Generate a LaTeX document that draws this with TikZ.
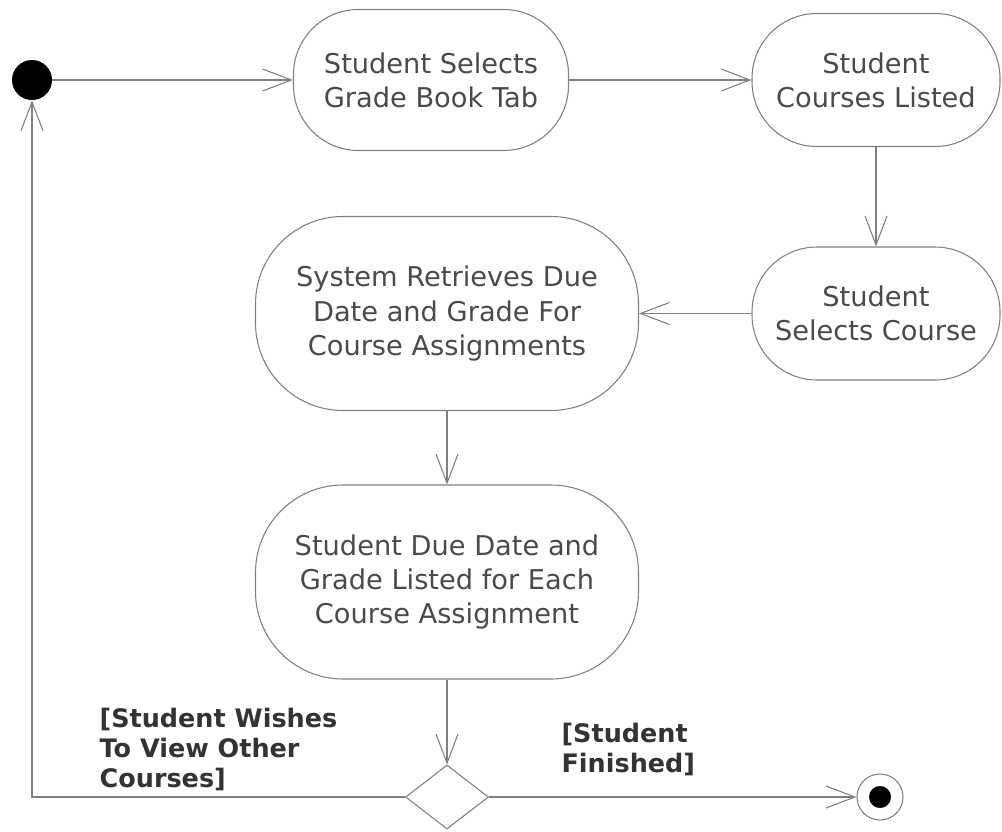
\documentclass[tikz,border=0pt]{standalone}
\usepackage{fontspec}
\setmainfont{DejaVu Sans}
\usepackage{xcolor}
\usepackage{tikz}
\usetikzlibrary{arrows.meta,shapes.geometric}
\definecolor{linegray}{HTML}{7F7F7F}
\definecolor{textgray}{HTML}{4A4A4A}
\definecolor{guardgray}{HTML}{333333}

\begin{document}
\begin{tikzpicture}[inner sep=1pt,
  >={Straight Barb[length=0.58cm,width=0.44cm]},
  every edge/.style={draw=linegray,line width=0.6pt},
  startdot/.style={circle,fill=black,minimum size=0.8cm,inner sep=0pt},
  enddot/.style={circle,draw=linegray,line width=0.6pt,minimum size=0.92cm,inner sep=0pt,
    path picture={\fill[black] (path picture bounding box.center) circle (0.22cm);}},
  activity/.style={draw=linegray,line width=0.6pt,rounded corners=1.3cm,text=textgray,
    align=center,font=\fontsize{15.5}{19.5}\selectfont},
  bigactivity/.style={activity,rounded corners=1.75cm,minimum width=7.66cm,minimum height=3.88cm},
  decision/.style={diamond,draw=linegray,line width=0.6pt,minimum width=1.66cm,
    minimum height=1.28cm,inner sep=0pt},
  guard/.style={font=\fontsize{14.5}{17}\selectfont\bfseries,text=guardgray,align=left,
    inner sep=0pt,anchor=south west}]
\useasboundingbox (-0.64,1.6) rectangle (19.4,-15.02);

\node[startdot] (S) {};
\node[activity,minimum width=5.5cm,minimum height=2.82cm] (A) [right of = S, node distance = 7.98cm] {Student Selects\\Grade Book Tab};
\node[activity,minimum width=4.96cm,minimum height=2.66cm] (B) [right of = A, node distance = 8.9cm] {Student\\Courses Listed};
\node[activity,minimum width=4.96cm,minimum height=2.66cm] (C) [below of = B, node distance = 4.67cm] {Student\\Selects Course};
\node[bigactivity] (D) [left of = C, node distance = 8.58cm] {System Retrieves Due\\Date and Grade For\\Course Assignments};
\node[bigactivity] (E) [below of = D, node distance = 5.37cm] {Student Due Date and\\Grade Listed for Each\\Course Assignment};
\node[decision] (F) [below of = E, node distance = 4.3cm] {};
\node[enddot] (G) [right of = F, node distance = 8.66cm] {};

\path (S) edge [->] (A);
\path (A) edge [->] (B);
\path (B) edge [->] (C);
\path (C) edge [->] (D);
\path (D) edge [->] (E);
\path (E) edge [->] (F);
\path (F) edge [->] node[guard,pos=0.196,yshift=0.42cm] {[Student\\Finished]} (G);
\draw[->,draw=linegray,line width=0.6pt] (F) -| node[guard,pos=0.41,yshift=0.12cm] {[Student Wishes\\To View Other\\Courses]} (S);

\end{tikzpicture}
\end{document}
